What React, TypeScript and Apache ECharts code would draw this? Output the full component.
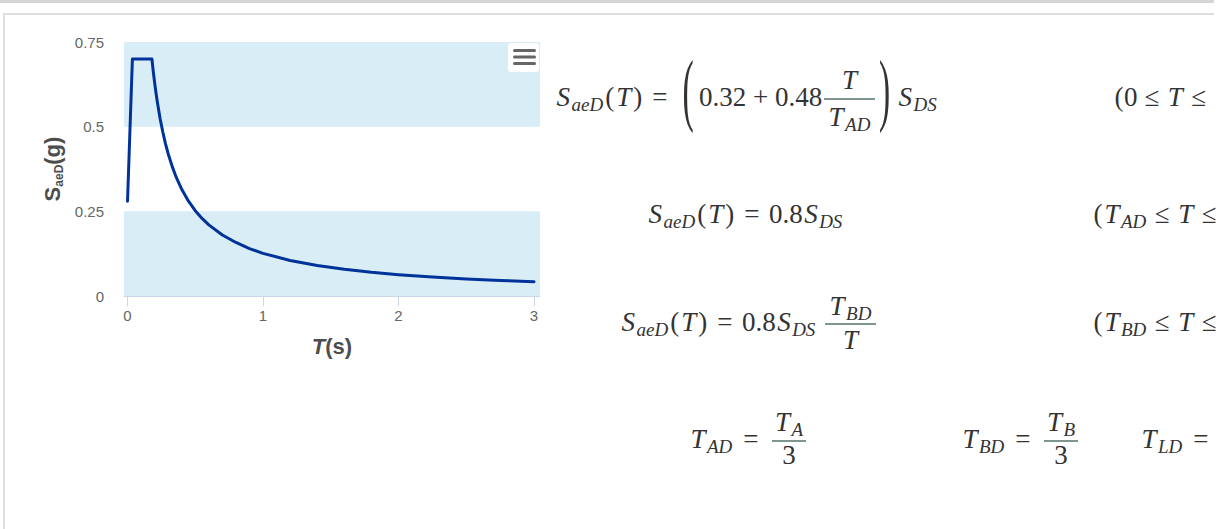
import React, { useEffect, useRef } from "react";
import * as echarts from "echarts";

// ---- data ----
const PERIOD_T = [0, 0.036, 0.18, 0.19, 0.2, 0.21, 0.22, 0.24, 0.26, 0.28, 0.3, 0.33, 0.36, 0.4, 0.45, 0.5, 0.55, 0.6, 0.7, 0.8, 0.9, 1.0, 1.2, 1.4, 1.6, 1.8, 2.0, 2.25, 2.5, 2.75, 3.0];
const SAED_G = [0.28, 0.7, 0.7, 0.663, 0.63, 0.6, 0.573, 0.525, 0.485, 0.45, 0.42, 0.382, 0.35, 0.315, 0.28, 0.252, 0.229, 0.21, 0.18, 0.158, 0.14, 0.126, 0.105, 0.09, 0.079, 0.07, 0.063, 0.056, 0.05, 0.046, 0.042];
const X_TICKS = [0, 1, 2, 3];
const Y_MIN = 0;
const Y_MAX = 0.75;
const Y_STEP = 0.25;
const PLOT_BANDS = [
  [0, 0.25],
  [0.5, 0.75],
];
const X_AXIS_TITLE = "{i|T}{b|(s)}";
const Y_AXIS_TITLE = "{b|S}{sub|aeD}{b|(g)}";

// ---- styling ----
const SANS = '"Liberation Sans", Arial, Helvetica, sans-serif';
const MATH = '"Liberation Serif", "Times New Roman", serif';
const TXT = "#333333";
const BAR = "#56706d";
const F = 27;
const FS = 19;
const LH = 34;

const mathRich: any = {
  i: { fontFamily: MATH, fontStyle: "italic", fontSize: F, lineHeight: LH, fill: TXT, padding: [0, 1.5, 0, 1.5] },
  n: { fontFamily: MATH, fontSize: F, lineHeight: LH, fill: TXT },
  p: { fontFamily: MATH, fontSize: F, lineHeight: LH, fill: TXT, padding: [0, 0.5, 0, 0.5] },
  e: { fontFamily: MATH, fontSize: F, lineHeight: LH, fill: TXT, padding: [0, 9.5, 0, 9.5] },
  r: { fontFamily: MATH, fontSize: F, lineHeight: LH, fill: TXT, padding: [0, 7, 0, 7] },
  s: { fontFamily: MATH, fontStyle: "italic", fontSize: FS, lineHeight: LH, fill: TXT, verticalAlign: "bottom", padding: [0, 1.5, 0, 0] },
};

function run(x: number, y: number, text: string, align = "left") {
  return {
    type: "text",
    x,
    y,
    z: 10,
    silent: true,
    style: { text, rich: mathRich, align, verticalAlign: "middle", fill: TXT, fontFamily: MATH, fontSize: F },
  };
}

function frac(cx: number, y: number, half: number, num: string, den: string, dn: number, dd: number) {
  return [
    run(cx, y - dn, num, "center"),
    {
      type: "line",
      z: 10,
      silent: true,
      shape: { x1: cx - half, y1: y, x2: cx + half, y2: y },
      style: { stroke: BAR, lineWidth: 1.4 },
    },
    run(cx, y + dd, den, "center"),
  ];
}

function bigParen(x: number, y: number, ch: string) {
  return {
    type: "text",
    x,
    y,
    z: 10,
    silent: true,
    scaleX: 1.2,
    scaleY: 2.87,
    style: { text: ch, fill: TXT, fontFamily: MATH, fontSize: 28, align: "center", verticalAlign: "middle" },
  };
}

const formulaElements: any[] = [
  // row 1
  run(555, 97, "{i|S}{s|aeD}{p|(}{i|T}{p|)}{e|=}"),
  bigParen(688, 89, "("),
  run(699, 97, "{n|0.32 + 0.48}"),
  ...frac(849.5, 99, 25.5, "{i|T}", "{i|T}{s|AD}", 19, 18),
  bigParen(884.5, 89, ")"),
  run(897, 97, "{i|S}{s|DS}"),
  run(1114, 97, "{p|(}{n|0}{r|≤}{i|T}{r|≤}"),
  // row 2
  run(647, 214, "{i|S}{s|aeD}{p|(}{i|T}{p|)}{e|=}{n|0.8}{i|S}{s|DS}"),
  run(1093, 214, "{p|(}{i|T}{s|AD}{r|≤}{i|T}{r|≤}"),
  // row 3
  run(620, 322, "{i|S}{s|aeD}{p|(}{i|T}{p|)}{e|=}{n|0.8}{i|S}{s|DS}"),
  ...frac(850.5, 324, 25.5, "{i|T}{s|BD}", "{i|T}", 18, 16),
  run(1093, 322, "{p|(}{i|T}{s|BD}{r|≤}{i|T}{r|≤}"),
  // row 4
  run(689, 439, "{i|T}{s|AD}{e|=}"),
  ...frac(789, 441, 17, "{i|T}{s|A}", "{n|3}", 19.5, 14),
  run(961, 439, "{i|T}{s|BD}{e|=}"),
  ...frac(1061, 441, 17, "{i|T}{s|B}", "{n|3}", 19.5, 14),
  run(1140, 439, "{i|T}{s|LD}{e|=}"),
];

const frameElements: any[] = [
  { type: "rect", z: 0, silent: true, shape: { x: 0, y: 0, width: 1214, height: 3 }, style: { fill: "#d6d6d6" } },
  { type: "line", z: 0, silent: true, shape: { x1: 3, y1: 14, x2: 1214, y2: 14 }, style: { stroke: "#dedede", lineWidth: 2 } },
  { type: "line", z: 0, silent: true, shape: { x1: 4, y1: 13, x2: 4, y2: 529 }, style: { stroke: "#dedede", lineWidth: 2 } },
  // context menu button
  {
    type: "rect",
    z: 20,
    silent: true,
    shape: { x: 508, y: 43, width: 31, height: 29, r: 3 },
    style: { fill: "#ffffff" },
  },
  { type: "rect", z: 21, silent: true, shape: { x: 513, y: 49, width: 23, height: 3, r: 1.5 }, style: { fill: "#666666" } },
  { type: "rect", z: 21, silent: true, shape: { x: 513, y: 55.5, width: 23, height: 3, r: 1.5 }, style: { fill: "#666666" } },
  { type: "rect", z: 21, silent: true, shape: { x: 513, y: 62, width: 23, height: 3, r: 1.5 }, style: { fill: "#666666" } },
];

const option: any = {
  animation: false,
  backgroundColor: "#ffffff",
  grid: { left: 124, top: 42, width: 416, height: 254, containLabel: false },
  xAxis: {
    type: "value",
    min: -0.026,
    max: 3.044,
    axisLine: { show: true, onZero: false, lineStyle: { color: "#ccd6eb", width: 1 } },
    axisTick: { show: true, length: 10, customValues: X_TICKS, lineStyle: { color: "#ccd6eb" } },
    axisLabel: { customValues: X_TICKS, color: "#666666", fontSize: 15, fontFamily: SANS, margin: 12 },
    splitLine: { show: false },
    name: X_AXIS_TITLE,
    nameLocation: "middle",
    nameGap: 39,
    nameTextStyle: {
      rich: {
        i: { fontSize: 22, fontWeight: "bold", fontStyle: "italic", fontFamily: SANS, color: "#4d4d4d" },
        b: { fontSize: 22, fontWeight: "bold", fontFamily: SANS, color: "#4d4d4d" },
      },
    },
  },
  yAxis: {
    type: "value",
    min: Y_MIN,
    max: Y_MAX,
    interval: Y_STEP,
    axisLine: { show: false },
    axisTick: { show: false },
    splitLine: { show: false },
    axisLabel: { color: "#666666", fontSize: 15, fontFamily: SANS, margin: 20 },
    name: Y_AXIS_TITLE,
    nameLocation: "middle",
    nameGap: 59,
    nameTextStyle: {
      rich: {
        b: { fontSize: 22, fontWeight: "bold", fontFamily: SANS, color: "#4d4d4d", lineHeight: 26 },
        sub: { fontSize: 12, fontWeight: "bold", fontFamily: SANS, color: "#4d4d4d", lineHeight: 26, verticalAlign: "bottom" },
      },
    },
  },
  series: [
    {
      type: "line",
      data: PERIOD_T.map((t, i) => [t, SAED_G[i]]),
      showSymbol: false,
      z: 2,
      lineStyle: { color: "#003399", width: 3, join: "round", cap: "round" },
      markArea: {
        silent: true,
        itemStyle: { color: "#d9edf7" },
        data: PLOT_BANDS.map((b) => [{ yAxis: b[0] }, { yAxis: b[1] }]),
      },
    },
  ],
  graphic: { elements: [...frameElements, ...formulaElements] },
};

export default function App() {
  const ref = useRef<HTMLDivElement>(null);
  useEffect(() => {
    const chart = echarts.init(ref.current as HTMLDivElement, null, { renderer: "svg" });
    chart.setOption(option);
    return () => chart.dispose();
  }, []);
  return (
    <div
      ref={ref}
      style={{ position: "fixed", left: 0, top: 0, width: 1222, height: 529, background: "#ffffff" }}
    />
  );
}
